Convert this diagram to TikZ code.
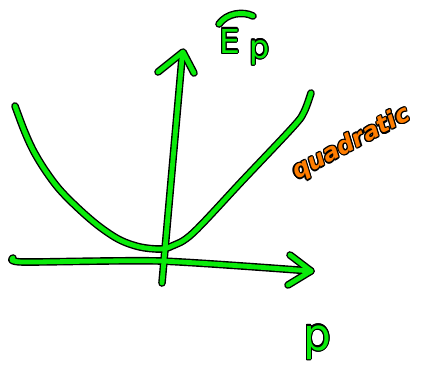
\documentclass[tikz,border=0pt]{standalone}
\usepackage{fontspec}
\setmainfont{DejaVu Sans}
\usepackage{contour}
\contourlength{1.2pt}
\contournumber{12}
\definecolor{pen}{RGB}{10,235,10}
\definecolor{orng}{RGB}{255,125,0}
\newcommand\inked[2]{\contour{black}{\textcolor{#1}{#2}}}
\tikzset{
  outline/.style={draw=black, line width=7.6pt, line cap=round, line join=round},
  inkline/.style={draw=pen, line width=4.8pt, line cap=round, line join=round},
  lbl/.style={inner sep=0pt, anchor=base west},
}
\newcommand\sketchpaths[1]{%
  % parabola
  \draw[#1] plot[smooth, tension=0.55] coordinates {(15,106) (24,130) (33,150) (45,170) (60,190) (80,210) (100,227) (120,240) (140,247) (160,249) (172,246) (193,233) (243,180) (293,127) (304,112) (311,93)};
  % vertical axis
  \draw[#1] (162,283) -- (182,58);
  \draw[#1] (158,72) -- (183,52) -- (194,73);
  % horizontal axis
  \draw[#1] plot[smooth, tension=0.4] coordinates {(13,258) (23,262) (160,261) (311,271)};
  \draw[#1] (290,255) -- (311,271) -- (288,285);
  % bar over E
  \draw[#1] (219,24) .. controls (227,13) and (243,11) .. (253,16);
}
\begin{document}
\begin{tikzpicture}[x=1pt, y=-1pt]
  \useasboundingbox (0,0) rectangle (428,375);
  \sketchpaths{outline}
  \sketchpaths{inkline}
  \node[lbl] (ebar) at (219,53) {\fontsize{33}{33}\selectfont\inked{pen}{E}};
  \node[lbl] (psub) at (249,58) {\fontsize{32}{32}\selectfont\inked{pen}{p}};
  \node[lbl, rotate=28] (quad) at (297,180) {\fontsize{24}{24}\selectfont\bfseries\itshape\inked{orng}{quadratic}};
  \node[lbl] (plabel) at (303,350) {\fontsize{44}{44}\selectfont\inked{pen}{p}};
\end{tikzpicture}
\end{document}
